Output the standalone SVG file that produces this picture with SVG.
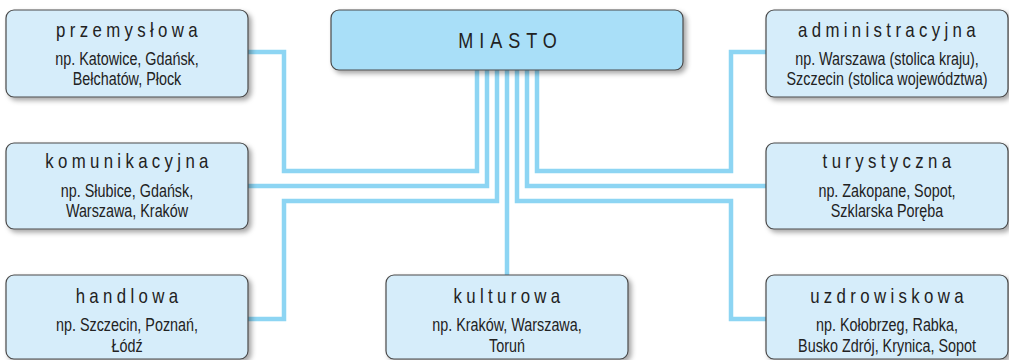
<svg xmlns="http://www.w3.org/2000/svg" width="1009" height="360" viewBox="0 0 1009 360">
<defs>
<filter id="sh" x="-10%" y="-20%" width="125%" height="150%">
<feDropShadow dx="3" dy="3" stdDeviation="2.5" flood-color="#000" flood-opacity="0.35"/>
</filter>
<style>
.box{fill:#d6edfa;stroke:#4a4a4a;stroke-width:1.2;filter:url(#sh)}
.main{fill:#a9dff8;stroke:#4a4a4a;stroke-width:1.2;filter:url(#sh)}
.t{font-family:"Liberation Sans",Arial,sans-serif;font-size:20.5px;fill:#222;text-anchor:middle;letter-spacing:5.3px}
.s{font-family:"Liberation Sans",Arial,sans-serif;font-size:17.5px;fill:#222;text-anchor:middle}
.m{font-family:"Liberation Sans",Arial,sans-serif;font-size:22px;fill:#222;text-anchor:middle;letter-spacing:7.3px}
.c{fill:none;stroke:#8dd5f3;stroke-width:4.5}
</style>
</defs>
<g id="connectors">
<path class="c" d="M477,70 V171 H284 V52 H248"/>
<path class="c" d="M487,70 V186 H248"/>
<path class="c" d="M497,70 V201 H284 V319 H248"/>
<path class="c" d="M507,70 V275"/>
<path class="c" d="M517,70 V201 H731 V319 H766"/>
<path class="c" d="M527,70 V186 H766"/>
<path class="c" d="M537,70 V171 H731 V52 H766"/>
</g>
<g id="miasto">
<rect class="main" x="331" y="10" width="352" height="60" rx="8"/>
<text class="m" transform="translate(510.5 48) scale(0.82 1)">MIASTO</text>
</g>
<g id="przemyslowa">
<rect class="box" x="6" y="10" width="242" height="87" rx="8"/>
<text class="t" transform="translate(129 36.5) scale(0.82 1)">przemysłowa</text>
<text class="s" transform="translate(127 65) scale(0.82 1)">np. Katowice, Gdańsk,</text>
<text class="s" transform="translate(127 85) scale(0.82 1)">Bełchatów, Płock</text>
</g>
<g id="komunikacyjna">
<rect class="box" x="6" y="143" width="242" height="86" rx="8"/>
<text class="t" transform="translate(129 168) scale(0.82 1)">komunikacyjna</text>
<text class="s" transform="translate(127 196.5) scale(0.82 1)">np. Słubice, Gdańsk,</text>
<text class="s" transform="translate(127 217) scale(0.82 1)">Warszawa, Kraków</text>
</g>
<g id="handlowa">
<rect class="box" x="6" y="275" width="242" height="84" rx="8"/>
<text class="t" transform="translate(129 302.5) scale(0.82 1)">handlowa</text>
<text class="s" transform="translate(127 331) scale(0.82 1)">np. Szczecin, Poznań,</text>
<text class="s" transform="translate(127 351.5) scale(0.82 1)">Łódź</text>
</g>
<g id="kulturowa">
<rect class="box" x="386" y="275" width="242" height="84" rx="8"/>
<text class="t" transform="translate(509 302.5) scale(0.82 1)">kulturowa</text>
<text class="s" transform="translate(507 331) scale(0.82 1)">np. Kraków, Warszawa,</text>
<text class="s" transform="translate(507 351.5) scale(0.82 1)">Toruń</text>
</g>
<g id="administracyjna">
<rect class="box" x="766" y="10" width="242" height="87" rx="8"/>
<text class="t" transform="translate(889 36.5) scale(0.82 1)">administracyjna</text>
<text class="s" transform="translate(887 65) scale(0.82 1)">np. Warszawa (stolica kraju),</text>
<text class="s" transform="translate(887 85) scale(0.82 1)">Szczecin (stolica województwa)</text>
</g>
<g id="turystyczna">
<rect class="box" x="766" y="143" width="242" height="86" rx="8"/>
<text class="t" transform="translate(889 168) scale(0.82 1)">turystyczna</text>
<text class="s" transform="translate(887 196.5) scale(0.82 1)">np. Zakopane, Sopot,</text>
<text class="s" transform="translate(887 217) scale(0.82 1)">Szklarska Poręba</text>
</g>
<g id="uzdrowiskowa">
<rect class="box" x="766" y="275" width="242" height="84" rx="8"/>
<text class="t" transform="translate(889 302.5) scale(0.82 1)">uzdrowiskowa</text>
<text class="s" transform="translate(887 331) scale(0.82 1)">np. Kołobrzeg, Rabka,</text>
<text class="s" transform="translate(887 351.5) scale(0.82 1)">Busko Zdrój, Krynica, Sopot</text>
</g>
</svg>
